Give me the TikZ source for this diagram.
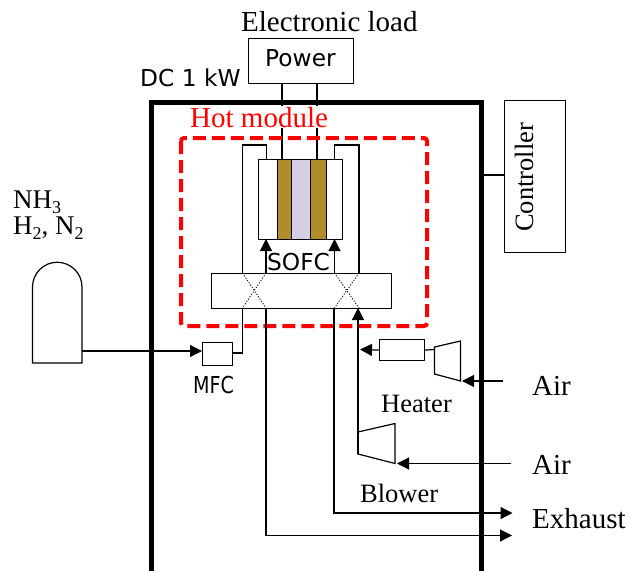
\documentclass[tikz,border=0pt]{standalone}
\usepackage{fontspec}
\setmainfont{Liberation Serif}
\newfontfamily\vf{DejaVu Sans}
\usetikzlibrary{arrows.meta}
\definecolor{cellbrown}{HTML}{B08D2A}
\definecolor{celllav}{HTML}{D5CFE6}
\newcommand{\lowsub}[1]{\smash{\raisebox{-5pt}{\fontsize{18}{18}\selectfont #1}}}
\tikzset{
 px/.style={x=1pt,y=-1pt},
 thinline/.style={draw=black,line width=1.2pt},
 flow/.style={thinline,-{Triangle[length=12pt,width=12pt]}},
 cross/.style={draw=black,line width=0.8pt,dash pattern=on 1.2pt off 1.6pt},
 serif/.style={font=\fontsize{29}{31}\selectfont,inner sep=0pt,anchor=base west},
 serifs/.style={font=\fontsize{26.5}{28}\selectfont,inner sep=0pt,anchor=base west},
 sans/.style={font=\vf\fontsize{23.3}{26}\selectfont,inner sep=0pt,anchor=base west},
 boxnode/.style={thinline,inner sep=0pt,anchor=north west,fill=white},
 gaslabel/.style={inner sep=0pt,anchor=base west,font=\fontsize{27}{29}\selectfont},
}
\begin{document}
\begin{tikzpicture}[px]
\useasboundingbox (0,0) rectangle (630,571);
% electronic load
\node[boxnode,minimum width=105pt,minimum height=45pt] (power) at (248,38) {};
\node[sans] (powerl) at (265,66.5) {Power};
\node[serif] (eload) at (241,31) {Electronic load};
\node[sans] (dc) at (140,86) {DC 1 kW};
% stack
\node[boxnode,minimum width=84pt,minimum height=80pt] (stack) at (258,159) {};
\node[boxnode,fill=cellbrown,minimum width=14.5pt,minimum height=80pt] (bl) at (276.5,159) {};
\node[boxnode,fill=cellbrown,minimum width=16pt,minimum height=80pt] (br) at (309.5,159) {};
\node[boxnode,fill=celllav,minimum width=18.5pt,minimum height=80pt] (lv) at (291,159) {};
% leads
\draw[thinline] (282,83)--(282,159);
\draw[thinline] (317,83)--(317,159);
% outer enclosure
\draw[black,line width=5pt] (151,571)--(151,102)--(481.5,102)--(481.5,571);
\node[serif,text=red,fill=white,inner ysep=1pt,inner xsep=1pt] (hot) at (189,127) {Hot module};
\draw[red,line width=4pt,dash pattern=on 13pt off 6pt,rounded corners=3pt] (181,138) rectangle (427,326);
% controller
\node[boxnode,minimum width=61pt,minimum height=151.5pt] (ctrl) at (503.5,100) {};
\node[serifs,rotate=90] (ctrll) at (533,232) {Controller};
\draw[thinline] (481.5,175)--(ctrl.west |- 0,175);
% heat exchanger
\node[boxnode,minimum width=180pt,minimum height=35pt] (hx) at (211,273) {};
\draw[cross] (242.5,273)--(266,308);
\draw[cross] (266,273)--(242.5,308);
\draw[cross] (334.5,273)--(359,308);
\draw[cross] (359,273)--(334.5,308);
% stack loops
\draw[thinline] (242.5,273)--(242.5,145)--(266.5,145)--(266.5,159);
\draw[thinline] (359,273)--(359,145)--(334.5,145)--(334.5,159);
\draw[flow] (266,273)--(266,239);
\draw[flow] (334.5,273)--(334.5,239);
\node[sans] (sofc) at (267,270) {SOFC};
% tank
\draw[thinline] (32.5,363)--(32.5,287) arc[start angle=180,end angle=0,radius=24.75pt]--(82,363)--cycle;
\coordinate (tankout) at (82,351);
\node[boxnode,minimum width=30pt,minimum height=23pt] (mfc) at (202,342) {};
\draw[flow] (tankout)--(mfc.west |- tankout);
\draw[thinline] (242.5,308)--(242.5,353)--(mfc.east |- 0,353);
\node[sans,xscale=0.82] (mfcl) at (193,393) {MFC};
\node[gaslabel] (nh) at (13,208) {NH\lowsub{3}};
\node[gaslabel] (hn) at (13,234) {H\lowsub{2}, N\lowsub{2}};
% exhaust lines
\coordinate (ex1) at (512.5,513);
\coordinate (ex2) at (512,535.5);
\draw[flow] (334,308)--(334,513)--(ex1);
\draw[flow] (266,308)--(266,535.5)--(ex2);
\node[serif] (exh) at (532,528) {Exhaust};
% blower
\draw[thinline] (358,432)--(395,423.5)--(395,463.5)--(358,454)--cycle;
\draw[flow] (358,454)--(358,308);
\coordinate (air2) at (511,463.5);
\draw[flow] (air2)--(397,463.5);
\node[serif] (airb) at (532,474) {Air};
\node[serifs] (blowl) at (360,502) {Blower};
% heater and compressor
\node[boxnode,minimum width=45pt,minimum height=21pt] (heater) at (379,339) {};
\draw[flow] (heater.west)--(360,349.5);
\draw[thinline] (heater.east)--(434.5,349.5);
\draw[thinline] (434.5,347)--(460.5,341)--(460.5,381)--(434.5,374)--cycle;
\coordinate (air1) at (503,381);
\draw[flow] (air1)--(462,381);
\node[serif] (aira) at (532,395) {Air};
\node[serifs] (heatl) at (381,412) {Heater};
\end{tikzpicture}
\end{document}
